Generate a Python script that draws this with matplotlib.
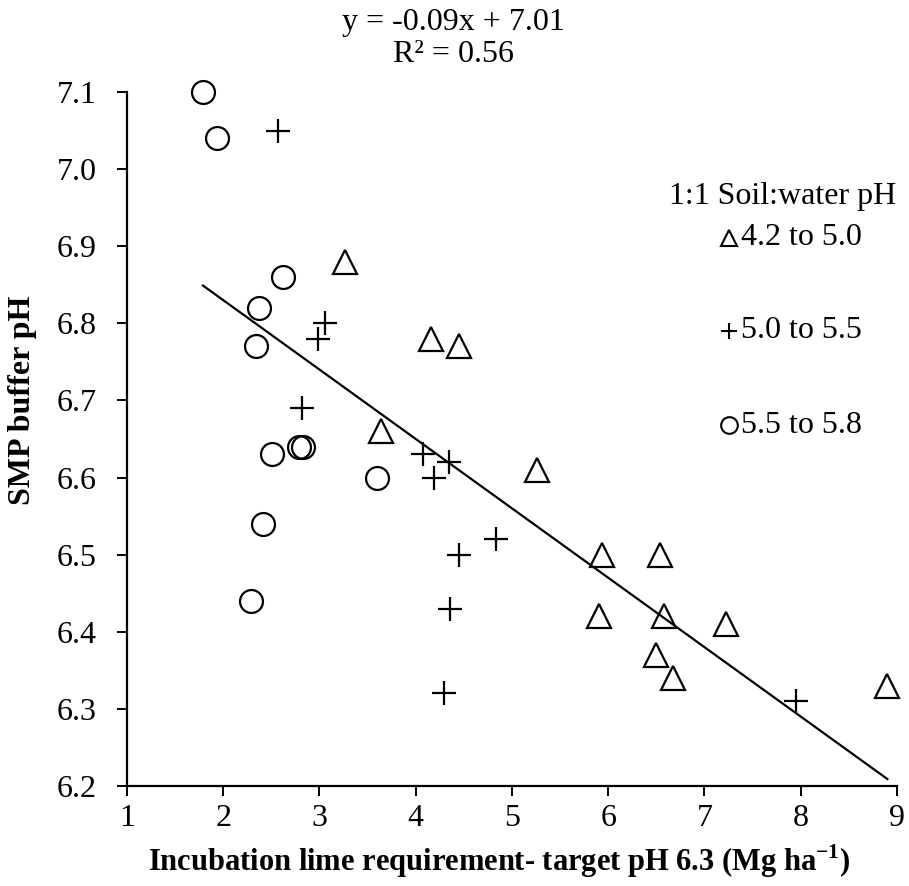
import numpy as np
import matplotlib
matplotlib.use("Agg")
import matplotlib.pyplot as plt

plt.rcParams['font.family'] = ['Liberation Serif', 'DejaVu Serif']
plt.rcParams['mathtext.fontset'] = 'custom'
plt.rcParams['mathtext.rm'] = 'Liberation Serif'
plt.rcParams['mathtext.bf'] = 'Liberation Serif:bold'

# soil:water pH 4.2 to 5.0 (triangles)
tri_x = [3.27, 4.16, 4.45, 3.64, 5.26, 5.93, 6.54, 5.90, 6.58, 6.50, 6.67, 7.22, 8.90]
tri_y = [6.88, 6.78, 6.77, 6.66, 6.61, 6.50, 6.50, 6.42, 6.42, 6.37, 6.34, 6.41, 6.33]

# soil:water pH 5.0 to 5.5 (plus)
plus_x = [2.57, 3.06, 2.98, 2.82, 4.08, 4.35, 4.19, 4.45, 4.83, 4.36, 4.29, 7.95]
plus_y = [7.05, 6.80, 6.78, 6.69, 6.63, 6.62, 6.60, 6.50, 6.52, 6.43, 6.32, 6.31]

# soil:water pH 5.5 to 5.8 (circles)
circ_x = [1.79, 1.93, 2.62, 2.37, 2.34, 2.79, 2.83, 2.51, 3.60, 2.41, 2.29]
circ_y = [7.10, 7.04, 6.86, 6.82, 6.77, 6.64, 6.64, 6.63, 6.60, 6.54, 6.44]

slope = -0.09
intercept = 7.01
r2 = 0.56

legend_labels = ['4.2 to 5.0', '5.0 to 5.5', '5.5 to 5.8']

fig = plt.figure(figsize=(9.09, 8.86), dpi=100)
ax = fig.add_axes([0.1397, 0.1129, 0.8471, 0.7833])

ax.plot(tri_x, tri_y, linestyle='none', marker='^', markersize=17,
        markerfacecolor='none', markeredgecolor='black', markeredgewidth=1.6, clip_on=False)
ax.plot(plus_x, plus_y, linestyle='none', marker='+', markersize=17,
        color='black', markeredgewidth=1.6, clip_on=False)
ax.plot(circ_x, circ_y, linestyle='none', marker='o', markersize=16.5,
        markerfacecolor='none', markeredgecolor='black', markeredgewidth=1.6, clip_on=False)

# trend line over the data range
all_x = tri_x + plus_x + circ_x
xs = np.array([min(all_x), max(all_x)])
ax.plot(xs, slope * xs + intercept, color='black', linewidth=1.6, clip_on=False)

ax.set_xlim(1, 9)
ax.set_ylim(6.2, 7.1)
ax.set_xticks(range(1, 10))
yt = np.arange(6.2, 7.15, 0.1)
ax.set_yticks(yt)
ax.set_yticklabels([f'{v:.1f}' for v in yt])

ax.spines['top'].set_visible(False)
ax.spines['right'].set_visible(False)
for s in ['left', 'bottom']:
    ax.spines[s].set_linewidth(1.6)
ax.tick_params(direction='out', length=7, width=1.4, labelsize=23)
ax.tick_params(axis='x', pad=6)
ax.tick_params(axis='y', pad=15)

ax.set_xlabel(r'Incubation lime requirement- target pH 6.3 (Mg ha$^{\mathbf{-1}}$)',
              fontsize=22, fontweight='bold')
ax.xaxis.set_label_coords(0.484, -0.082)
ax.set_ylabel('SMP buffer pH', fontsize=23, fontweight='bold')
ax.yaxis.set_label_coords(-0.117, 0.556)

# equation above the plot
fig.text(0.499, 0.975, f'y = {slope:.2f}x + {intercept:.2f}', ha='center', va='center', fontsize=23)
fig.text(0.499, 0.938, f'R² = {r2:.2f}', ha='center', va='center', fontsize=23)

# hand-made legend
ax.text(0.852, 0.850, '1:1 Soil:water pH', transform=ax.transAxes,
        ha='center', va='center', fontsize=23)
mk = [dict(marker='^', markerfacecolor='none', markeredgecolor='black'),
      dict(marker='+', color='black'),
      dict(marker='o', markerfacecolor='none', markeredgecolor='black')]
ys = [0.790, 0.656, 0.520]
for m, yy, lab in zip(mk, ys, legend_labels):
    ax.plot([0.782], [yy], transform=ax.transAxes, linestyle='none', markersize=12,
            markeredgewidth=1.5, clip_on=False, **m)
    ax.text(0.798, yy, lab, transform=ax.transAxes, ha='left', va='center', fontsize=23)

fig.savefig('out.png', dpi=100)
